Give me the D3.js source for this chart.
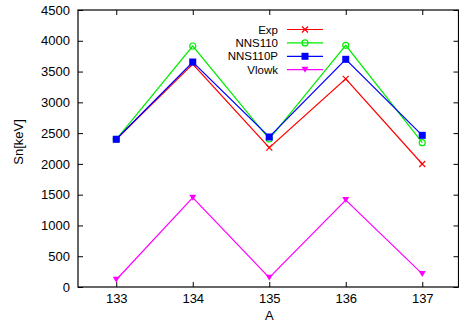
<!DOCTYPE html>
<html><head><meta charset="utf-8">
<script src="https://cdn.jsdelivr.net/npm/d3@7"></script>
<style>body{margin:0;background:#fff}svg{display:block}text{font-family:"Liberation Sans",Arial,sans-serif}</style>
</head><body><svg id="c" width="459" height="324"></svg>
<script>
const categories = [133, 134, 135, 136, 137];
const exp = [2400, 3620, 2263, 3382, 1998];
const nns110 = [2400, 3915, 2404, 3926, 2345];
const nns110p = [2400, 3655, 2437, 3699, 2464];
const vlowk = [118, 1451, 151, 1413, 213];
const seriesNames = ["Exp", "NNS110", "NNS110P", "Vlowk"];
const seriesColors = ["#ff0000", "#00ee00", "#0000ff", "#ff00ff"];
const seriesMarkers = ["cross", "circle", "square", "triangle"];
const yTicks = [0, 500, 1000, 1500, 2000, 2500, 3000, 3500, 4000, 4500];

const svg = d3.select("#c");
const L = 78, R = 460.5, T = 10, B = 287;
const x = d3.scaleLinear().domain([132.5, 137.5]).range([L, R]);
const y = d3.scaleLinear().domain([0, 4500]).range([B, T]);

const series = [exp, nns110, nns110p, vlowk].map((v, i) => ({
  name: seriesNames[i], color: seriesColors[i], marker: seriesMarkers[i],
  pts: categories.map((c, j) => [c, v[j]])
}));

const g = svg.append("g");
g.append("g").attr("transform", `translate(0,${B})`)
  .call(d3.axisBottom(x).tickValues(categories).tickFormat(d3.format("d")).tickSizeInner(-5).tickSizeOuter(0).tickPadding(7))
  .call(a => a.select(".domain").remove());
g.append("g").attr("transform", `translate(0,${T})`)
  .call(d3.axisTop(x).tickValues(categories).tickSizeInner(-5).tickSizeOuter(0).tickFormat(""))
  .call(a => a.select(".domain").remove());
g.append("g").attr("transform", `translate(${L},0)`)
  .call(d3.axisLeft(y).tickValues(yTicks).tickFormat(d3.format("d")).tickSizeInner(-5).tickSizeOuter(0).tickPadding(8))
  .call(a => a.select(".domain").remove());
g.append("g").attr("transform", `translate(${R - 2},0)`)
  .call(d3.axisRight(y).tickValues(yTicks).tickSizeInner(-5).tickSizeOuter(0).tickFormat(""))
  .call(a => a.select(".domain").remove());
g.selectAll(".tick line").attr("stroke", "#000");
g.selectAll(".tick text").attr("font-size", 13).attr("fill", "#000")
  .attr("font-family", "Liberation Sans, Arial, sans-serif");

svg.append("rect").attr("x", L).attr("y", T).attr("width", R - 2 - L).attr("height", B - T)
  .attr("fill", "none").attr("stroke", "#000").attr("stroke-width", 1.2);

function drawMarker(sel, m, color, cx, cy) {
  if (m === "cross") {
    sel.append("path").attr("d", `M${cx-3},${cy-3}L${cx+3},${cy+3}M${cx-3},${cy+3}L${cx+3},${cy-3}`)
      .attr("stroke", color).attr("stroke-width", 1.2).attr("fill", "none");
  } else if (m === "circle") {
    sel.append("circle").attr("cx", cx).attr("cy", cy).attr("r", 3)
      .attr("stroke", color).attr("stroke-width", 1.2).attr("fill", "none");
  } else if (m === "square") {
    sel.append("rect").attr("x", cx - 3.5).attr("y", cy - 3.5).attr("width", 7).attr("height", 7).attr("fill", color);
  } else {
    sel.append("path").attr("d", `M${cx-3.5},${cy-3}L${cx+3.5},${cy-3}L${cx},${cy+3}Z`).attr("fill", color);
  }
}

const line = d3.line().x(d => x(d[0])).y(d => y(d[1]));
series.forEach(s => {
  const sg = svg.append("g");
  sg.append("path").attr("d", line(s.pts)).attr("fill", "none").attr("stroke", s.color).attr("stroke-width", 1.2);
  s.pts.forEach(p => drawMarker(sg, s.marker, s.color, x(p[0]), y(p[1])));
});

const lg = svg.append("g");
series.forEach((s, i) => {
  const ly = 29.5 + i * 13.4;
  lg.append("text").attr("x", 278).attr("y", ly).attr("dy", "0.35em").attr("text-anchor", "end")
    .attr("font-size", 11.5).text(s.name);
  lg.append("line").attr("x1", 287).attr("x2", 323).attr("y1", ly).attr("y2", ly)
    .attr("stroke", s.color).attr("stroke-width", 1.2);
  drawMarker(lg, s.marker, s.color, 305, ly);
});

svg.append("text").attr("x", x(135)).attr("y", 319.5).attr("text-anchor", "middle").attr("font-size", 13).text("A");
svg.append("text").attr("transform", "translate(23,142) rotate(-90)").attr("text-anchor", "middle")
  .attr("font-size", 13).text("Sn[keV]");
</script></body></html>
